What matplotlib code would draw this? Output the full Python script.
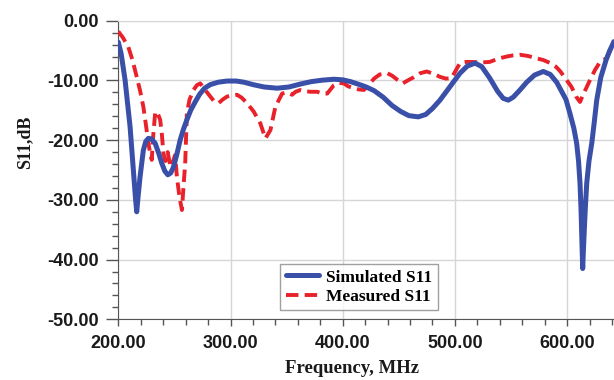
import matplotlib
matplotlib.use("Agg")
import matplotlib.pyplot as plt
from matplotlib.ticker import MultipleLocator, FormatStrFormatter

# Simulated S11 (frequency MHz, dB)
sim_freq = [200.0, 202.5, 206.0, 210.5, 213.4, 215.2, 216.4, 217.6, 219.4, 222.3,
            224.5, 226.8, 229.5, 232.8, 236.0, 238.8, 241.5, 244.1, 246.7, 249.2,
            252.0, 255.1, 258.0, 261.1, 264.5, 268.5, 272.5, 276.9, 282.0, 289.0,
            296.9, 305.0, 312.0, 320.0, 330.0, 341.6, 352.0, 362.4, 372.0, 382.0,
            392.1, 400.0, 407.0, 415.0, 421.0, 427.9, 436.0, 444.0, 451.7, 459.0,
            467.4, 474.0, 480.0, 486.7, 495.0, 504.5, 511.0, 518.0, 524.0, 531.0,
            538.0, 543.0, 547.6, 552.0, 558.0, 564.0, 571.0, 578.8, 585.0, 590.7,
            595.0, 599.0, 602.5, 606.0, 608.5, 610.2, 611.5, 612.4, 613.0, 613.5,
            613.9, 614.4, 615.2, 616.2, 617.5, 619.5, 622.0, 624.2, 626.4, 630.0,
            634.7, 638.0, 641.8]
sim_s11 = [-3.6, -5.5, -9.9, -17.8, -25.0, -29.5, -32.0, -29.5, -26.1, -21.7,
           -20.2, -19.7, -19.8, -20.5, -22.2, -23.9, -25.2, -25.8, -25.5, -24.5,
           -22.5, -20.0, -18.2, -16.6, -15.0, -13.6, -12.3, -11.3, -10.7, -10.3,
           -10.1, -10.1, -10.3, -10.7, -11.1, -11.3, -11.1, -10.6, -10.2, -9.95,
           -9.8, -9.9, -10.2, -10.7, -11.1, -11.7, -12.8, -14.2, -15.2, -15.9,
           -16.1, -15.7, -14.7, -13.3, -11.2, -8.8, -7.6, -7.1, -7.7, -9.6,
           -11.8, -13.0, -13.3, -12.8, -11.6, -10.3, -9.1, -8.5, -9.0, -10.3,
           -11.8, -13.2, -15.5, -18.0, -20.5, -23.5, -27.2, -31.5, -35.6, -39.0,
           -41.5, -39.0, -35.6, -31.5, -27.2, -23.5, -20.5, -17.0, -13.3, -9.5,
           -6.6, -5.0, -3.5]

# Measured S11 (frequency MHz, dB)
meas_freq = [200.0, 204.0, 208.9, 212.5, 216.4, 219.5, 222.3, 224.5, 226.8, 228.5,
             229.8, 231.0, 232.8, 234.5, 237.3, 238.8, 240.2, 242.0, 244.0, 246.0,
             247.6, 249.2, 250.6, 252.2, 254.5, 256.7, 258.2, 259.6, 261.1, 263.5,
             267.0, 270.0, 273.0, 277.0, 282.0, 285.5, 289.4, 293.0, 296.9, 301.0,
             305.8, 310.0, 314.7, 320.6, 326.6, 331.1, 335.6, 340.0, 346.0, 350.0,
             354.9, 358.0, 362.4, 366.5, 371.3, 377.3, 382.0, 386.2, 392.1, 396.0,
             401.0, 405.0, 410.0, 414.0, 418.9, 422.0, 427.9, 433.0, 439.8, 444.0,
             448.8, 453.5, 458.0, 463.0, 468.9, 474.9, 481.0, 486.7, 492.0, 497.0,
             500.0, 504.5, 510.0, 516.0, 523.0, 531.0, 538.0, 546.0, 552.0, 558.0,
             565.0, 573.0, 579.0, 585.0, 590.0, 594.0, 599.0, 604.0, 608.0, 611.5,
             614.0, 617.0, 620.5, 625.0, 629.4, 635.0, 638.5, 641.8]
meas_s11 = [-1.8, -2.8, -4.4, -6.5, -9.4, -11.8, -14.4, -17.3, -20.5, -22.3,
            -23.3, -19.5, -15.5, -15.2, -16.6, -19.0, -22.2, -23.5, -22.0, -24.0,
            -24.5, -23.3, -22.5, -26.1, -29.5, -31.7, -27.5, -23.9, -15.5, -13.2,
            -11.6, -10.8, -10.5, -11.5, -12.7, -13.5, -13.8, -13.2, -12.7, -12.5,
            -12.4, -12.9, -13.8, -15.2, -17.2, -19.7, -18.3, -14.4, -12.2, -12.0,
            -12.4, -11.9, -11.6, -11.8, -11.9, -11.9, -12.2, -12.2, -10.8, -10.4,
            -10.5, -11.0, -11.3, -11.5, -11.6, -11.0, -9.7, -9.0, -8.8, -9.2,
            -9.9, -10.5, -10.0, -9.5, -8.8, -8.5, -8.9, -9.4, -9.7, -9.6,
            -8.6, -7.1, -6.9, -6.9, -7.0, -6.9, -6.4, -6.0, -5.8, -5.7,
            -5.9, -6.3, -6.6, -7.1, -7.7, -8.5, -9.8, -11.1, -12.7, -13.6,
            -12.5, -11.3, -9.9, -8.2, -6.9, -6.3, -5.0, -3.3]

sim_label = "Simulated S11"
meas_label = "Measured S11"

fig = plt.figure(figsize=(6.14, 3.80), dpi=100)
ax = fig.add_axes([0.1927, 0.1597, 0.8073, 0.7858])

ax.plot(sim_freq, sim_s11, color="#3a4fa8", lw=3.6, label=sim_label,
        solid_joinstyle="round", solid_capstyle="round", zorder=4)
ax.plot(meas_freq, meas_s11, color="#e8212a", lw=2.8, ls=(0, (3.2, 1.6)),
        dash_joinstyle="round", label=meas_label, zorder=3)

ax.set_xlim(200, 641.8)
ax.set_ylim(-50, 0)
ax.xaxis.set_major_locator(MultipleLocator(100))
ax.xaxis.set_minor_locator(MultipleLocator(20))
ax.yaxis.set_major_locator(MultipleLocator(10))
ax.yaxis.set_minor_locator(MultipleLocator(2))
ax.xaxis.set_major_formatter(FormatStrFormatter("%.2f"))
ax.yaxis.set_major_formatter(FormatStrFormatter("%.2f"))

ax.grid(True, which="major", color="#d6d6d6", lw=1.0, zorder=0)
ax.spines["right"].set_visible(False)
ax.spines["top"].set_color("#d6d6d6")
ax.spines["left"].set_color("#555555")
ax.spines["bottom"].set_color("#555555")

ax.tick_params(axis="y", which="major", direction="out", length=8.6, width=1,
               color="#555555", pad=5.5)
ax.tick_params(axis="y", which="minor", direction="out", length=4.3, width=1,
               color="#555555")
ax.tick_params(axis="x", which="major", direction="out", length=5, width=1,
               color="#555555", pad=6.5)
ax.tick_params(axis="x", which="minor", direction="out", length=4.3, width=1,
               color="#555555")
ax.tick_params(axis="both", labelsize=13)
for lab in ax.get_xticklabels() + ax.get_yticklabels():
    lab.set_fontfamily("Liberation Sans")
    lab.set_fontweight("bold")
    lab.set_color("#1a1a1a")

ax.set_xlabel("Frequency, MHz", family="Liberation Serif", fontweight="bold",
              fontsize=13.5, color="#1a1a1a")
ax.xaxis.set_label_coords(0.472, -0.135)
ax.set_ylabel("S11,dB", family="Liberation Serif", fontweight="bold",
              fontsize=13, color="#1a1a1a")
ax.yaxis.set_label_coords(-0.172, 0.594)

leg = ax.legend(loc="lower left", bbox_to_anchor=(0.327, 0.03),
                prop={"family": "Liberation Serif", "weight": "bold", "size": 12.5},
                frameon=True, fancybox=False, edgecolor="#888888",
                handlelength=1.95, handletextpad=0.4, borderpad=0.3,
                labelspacing=0.2, borderaxespad=0.0)
leg.get_frame().set_linewidth(1.0)

fig.savefig("out.png", dpi=100)
